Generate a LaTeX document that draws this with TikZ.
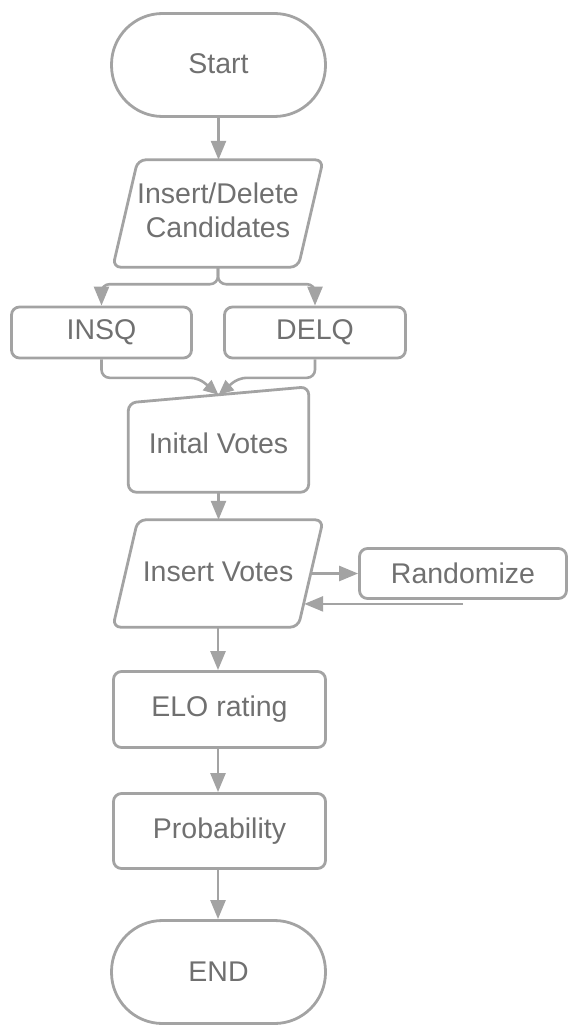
\documentclass[tikz,border=0pt]{standalone}
\usepackage{fontspec}
\setmainfont{Liberation Sans}
\usetikzlibrary{arrows.meta,calc}
\definecolor{linec}{HTML}{A3A3A3}
\definecolor{txtc}{HTML}{707070}
\newcommand\pgramoutline[1]{\draw[shapeline] ([xshift=25pt]#1.north west) -- (#1.north east) -- ([xshift=-25pt]#1.south east) -- (#1.south west) -- cycle;}
\begin{document}
\begin{tikzpicture}[x=1pt,y=-1pt,
  shapeline/.style={draw=linec,line width=2.8pt,rounded corners=8pt,line join=round},
  txt/.style={text=txtc,font=\fontsize{28.5pt}{34pt}\selectfont,align=center,inner sep=0pt},
  box/.style={txt,shapeline,minimum width=#1},
  box/.default=212pt,
  stad/.style={txt,draw=linec,line width=2.8pt,rounded corners=51pt,minimum width=214pt,minimum height=103pt},
  plain/.style={txt,minimum width=210pt,minimum height=107pt},
  arr/.style={draw=linec,line width=2.6pt,-{Triangle[length=19pt,width=15pt]},rounded corners=8pt},
  sarr/.style={draw=linec,line width=2.6pt,-{Triangle[length=15pt,width=13pt]},rounded corners=8pt}]
\useasboundingbox (0,0) rectangle (569,1027);

\node[stad] (start) at (218.5,65) {\raisebox{2pt}{Start}};
\node[plain] (idc) at (218,213.5) {\raisebox{3pt}{\begin{tabular}{@{}c@{}}Insert/Delete\\Candidates\end{tabular}}};
\pgramoutline{idc}
\node[box=180pt,minimum height=51pt] (insq) at (101.5,332.5) {INSQ};
\node[box=181pt,minimum height=51pt] (delq) at (315,332.5) {DELQ};
\node[txt,minimum width=180pt,minimum height=97pt] (ini) at (218.5,443.5) {Inital Votes};
\draw[shapeline] ([yshift=-8pt]ini.north west) -- ([yshift=8pt]ini.north east) -- (ini.south east) -- (ini.south west) -- cycle;
\node[plain] (iv) at (218,573.5) {\raisebox{3pt}{Insert Votes}};
\pgramoutline{iv}
\node[box=207pt,minimum height=50pt] (rnd) at (463,573.5) {Randomize};
\node[box=212pt,minimum height=76pt] (elo) at (219.5,709.5) {ELO rating};
\node[box=212pt,minimum height=75pt] (prob) at (219.5,831) {Probability};
\node[stad] (end) at (218.5,972) {END};

\draw[arr] (start.south) -- (start.south |- idc.north);
\draw[arr] (idc.center |- idc.south) -- ++(0,17) -| (insq.north);
\draw[arr] (idc.center |- idc.south) -- ++(0,17) -| (delq.north);
\draw[sarr] (insq.south) |- ($(ini.north)+(-20,-17)$) -- (ini.north);
\draw[sarr] (delq.south) |- ($(ini.north)+(20,-17)$) -- (ini.north);
\draw[arr] (ini.south) -- (ini.south |- iv.north);
\draw[arr] ([xshift=-11pt]iv.east) -- (rnd.west);
\draw[arr] ([yshift=-4pt]rnd.south) -- ([xshift=-19pt,yshift=-4pt]rnd.south -| iv.east);
\draw[arr] (iv.center |- iv.south) -- (elo.north -| iv.center);
\draw[arr] (elo.south -| iv.center) -- (prob.north -| iv.center);
\draw[arr] (prob.south -| iv.center) -- (end.north -| iv.center);
\end{tikzpicture}
\end{document}
